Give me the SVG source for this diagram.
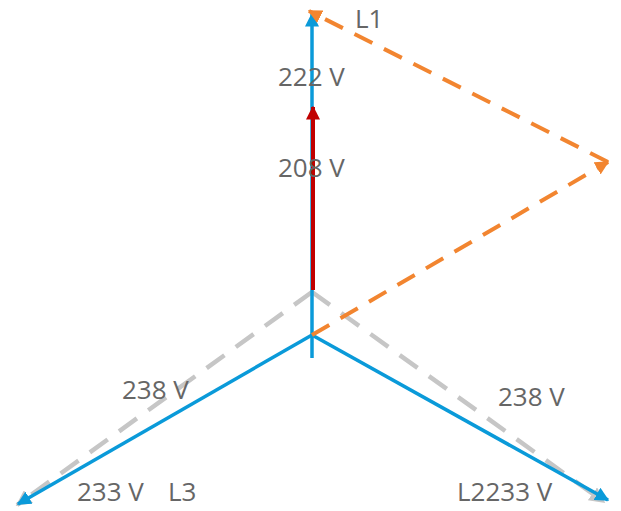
<svg xmlns="http://www.w3.org/2000/svg" width="621" height="511" viewBox="0 0 621 511">
<style>
.t{font-family:"Open Sans",sans-serif;font-size:26px;fill:#666}
.b{stroke:#0a9ad9;stroke-width:3.5;fill:none}
.g{stroke:#c6c6c6;stroke-width:4.5;fill:none;stroke-dasharray:22 14}
.o{stroke:#f28530;stroke-width:4;fill:none;stroke-dasharray:20 13}
.r{stroke:#c00000;stroke-width:4;fill:none}
</style>
<defs>
<marker id="mb" viewBox="0 0 10 10" refX="9" refY="5" markerWidth="4" markerHeight="4" orient="auto" markerUnits="strokeWidth"><path d="M0,0L10,5L0,10z" fill="#0a9ad9"/></marker>
<marker id="mg" viewBox="0 0 10 10" refX="9" refY="5" markerWidth="3.5" markerHeight="3.5" orient="auto" markerUnits="strokeWidth"><path d="M0,0L10,5L0,10z" fill="#c6c6c6"/></marker>
<marker id="mo" viewBox="0 0 10 10" refX="9" refY="5" markerWidth="3.5" markerHeight="3.5" orient="auto" markerUnits="strokeWidth"><path d="M0,0L10,5L0,10z" fill="#f28530"/></marker>
<marker id="mr" viewBox="0 0 10 10" refX="9" refY="5" markerWidth="3.5" markerHeight="3.5" orient="auto" markerUnits="strokeWidth"><path d="M0,0L10,5L0,10z" fill="#c00000"/></marker>
</defs>
<g id="connectors">
<line class="g" x1="312" y1="292" x2="17" y2="505" marker-end="url(#mg)"/>
<line class="g" x1="312" y1="292" x2="604" y2="502" marker-end="url(#mg)"/>
<line class="b" x1="312" y1="335" x2="18" y2="504" marker-end="url(#mb)"/>
<line class="b" x1="312" y1="335" x2="608" y2="500" marker-end="url(#mb)"/>
<line class="b" x1="312" y1="358" x2="312" y2="14" marker-end="url(#mb)"/>
<line class="r" x1="313" y1="290" x2="313" y2="107" marker-end="url(#mr)"/>
<line class="o" x1="312" y1="335" x2="608" y2="162" marker-end="url(#mo)"/>
<line class="o" x1="608" y1="162" x2="309" y2="11" marker-end="url(#mo)"/>
</g>
<g id="labels">
<text class="t" x="355" y="28">L1</text>
<text class="t" x="278" y="86">222 V</text>
<text class="t" x="278" y="177">208 V</text>
<text class="t" x="122" y="399">238 V</text>
<text class="t" x="498" y="406">238 V</text>
<text class="t" x="77" y="501">233 V</text>
<text class="t" x="168" y="501">L3</text>
<text class="t" x="457" y="501">L2233 V</text>
</g>
</svg>
